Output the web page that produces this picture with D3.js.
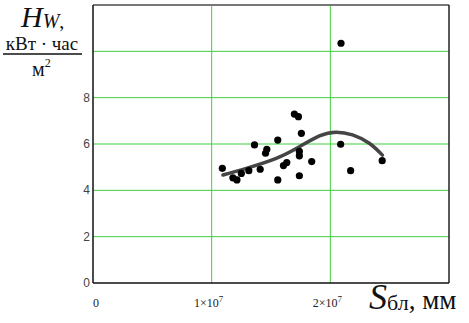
<!DOCTYPE html>
<html><head><meta charset="utf-8">
<script src="https://cdn.jsdelivr.net/npm/d3@7"></script>
<style>body{margin:0;background:#fff}svg{display:block}.serif{font-family:'Liberation Serif','Times New Roman',serif}.sans{font-family:'Liberation Sans',Arial,sans-serif}</style>
</head><body>
<svg id="c" width="469" height="323"></svg>
<script>
// Scatter points: S (mm) and Hw (kWh/m2)
const sPoints = [1.090e7,1.179e7,1.213e7,1.250e7,1.313e7,1.361e7,1.409e7,1.465e7,1.454e7,1.557e7,1.557e7,1.605e7,1.633e7,1.697e7,1.731e7,1.756e7,1.739e7,1.739e7,1.739e7,1.843e7,2.087e7,2.171e7,2.437e7,2.090e7];
const hPoints = [4.95,4.54,4.45,4.73,4.85,5.96,4.91,5.77,5.60,6.17,4.45,5.07,5.20,7.29,7.18,6.46,5.68,5.49,4.63,5.24,5.99,4.85,5.28,10.35];
// Fitted curve samples
const sCurve = [1.095e7,1.292e7,1.544e7,1.739e7,1.908e7,2.048e7,2.187e7,2.328e7,2.439e7];
const hCurve = [4.66,4.95,5.38,5.88,6.35,6.51,6.39,6.03,5.52];
const yTicks = [0,2,4,6,8];
const yGrid = [2,4,6,8,10];
const xGrid = [1e7,2e7];
const xTickLabels = [{v:0,t:"0"},{v:1e7,t:"1"},{v:2e7,t:"2"}];

const svg = d3.select("#c");
const L=93,R=449,T=5,B=283;
const x = d3.scaleLinear().domain([0,3e7]).range([L,R]);
const y = d3.scaleLinear().domain([0,12]).range([B,T]);
const green="#3fcf3f";

svg.append("g").selectAll("line").data(yGrid).join("line")
  .attr("x1",L).attr("x2",R).attr("y1",d=>y(d)).attr("y2",d=>y(d))
  .attr("stroke",green).attr("stroke-width",1);
svg.append("g").selectAll("line").data(xGrid).join("line")
  .attr("y1",T).attr("y2",B).attr("x1",d=>x(d)).attr("x2",d=>x(d))
  .attr("stroke",green).attr("stroke-width",1);

// frame
svg.append("line").attr("x1",L).attr("x2",R).attr("y1",T).attr("y2",T).attr("stroke","#777").attr("stroke-width",2);
svg.append("line").attr("x1",R).attr("x2",R).attr("y1",T).attr("y2",B).attr("stroke","#222").attr("stroke-width",1.5);
svg.append("line").attr("x1",L).attr("x2",L).attr("y1",T).attr("y2",B).attr("stroke","#111").attr("stroke-width",1.5);
svg.append("line").attr("x1",L).attr("x2",R).attr("y1",B).attr("y2",B).attr("stroke","#111").attr("stroke-width",1.5);

// y tick labels
svg.append("g").attr("class","sans").selectAll("text").data(yTicks).join("text")
  .attr("x",L-3).attr("y",d=>y(d)+4).attr("text-anchor","end")
  .attr("font-size",12).attr("fill","#444")
  .text(d=>d);

// x tick labels
const xt = svg.append("g").attr("class","serif").attr("font-size",12).attr("fill","#222");
xTickLabels.forEach(d=>{
  const t = xt.append("text").attr("x",x(d.v)-(d.v===0?-3:3)).attr("y",307).attr("text-anchor","middle");
  if(d.v===0){t.text("0");}
  else{
    t.append("tspan").text(d.t+"×10");
    t.append("tspan").attr("dy",-5).attr("font-size",9).text("7");
  }
});

// curve
const line = d3.line().x(d=>x(d[0])).y(d=>y(d[1])).curve(d3.curveNatural);
svg.append("path").datum(sCurve.map((s,i)=>[s,hCurve[i]]))
  .attr("d",line).attr("fill","none").attr("stroke","#454545").attr("stroke-width",3.5).attr("stroke-linecap","round");

// points
svg.append("g").selectAll("circle").data(sPoints.map((s,i)=>[s,hPoints[i]])).join("circle")
  .attr("cx",d=>x(d[0])).attr("cy",d=>y(d[1])).attr("r",3.6).attr("fill","#000");

// y axis label
const yl = svg.append("g").attr("class","serif").attr("fill","#111");
const h = yl.append("text").attr("x",21).attr("y",27);
h.append("tspan").attr("font-size",30).attr("font-style","italic").text("H");
h.append("tspan").attr("font-size",20).attr("font-style","italic").attr("dy",1).text("W");
h.append("tspan").attr("font-size",20).text(",");
yl.append("text").attr("x",42).attr("y",50).attr("text-anchor","middle").attr("font-size",19).text("кВт · час");
yl.append("line").attr("x1",3).attr("x2",82).attr("y1",54).attr("y2",54).attr("stroke","#111").attr("stroke-width",1.6);
const m = yl.append("text").attr("x",32).attr("y",76).attr("font-size",20);
m.append("tspan").text("м");
m.append("tspan").attr("font-size",12).attr("dy",-9).text("2");

// x axis label
const xl = svg.append("text").attr("class","serif").attr("x",369).attr("y",309).attr("fill","#111");
xl.append("tspan").attr("font-size",36).attr("font-style","italic").text("S");
xl.append("tspan").attr("font-size",22).attr("dy",1).text("бл");
xl.append("tspan").attr("font-size",27).attr("dy",-1).text(", мм");
</script>
</body></html>
